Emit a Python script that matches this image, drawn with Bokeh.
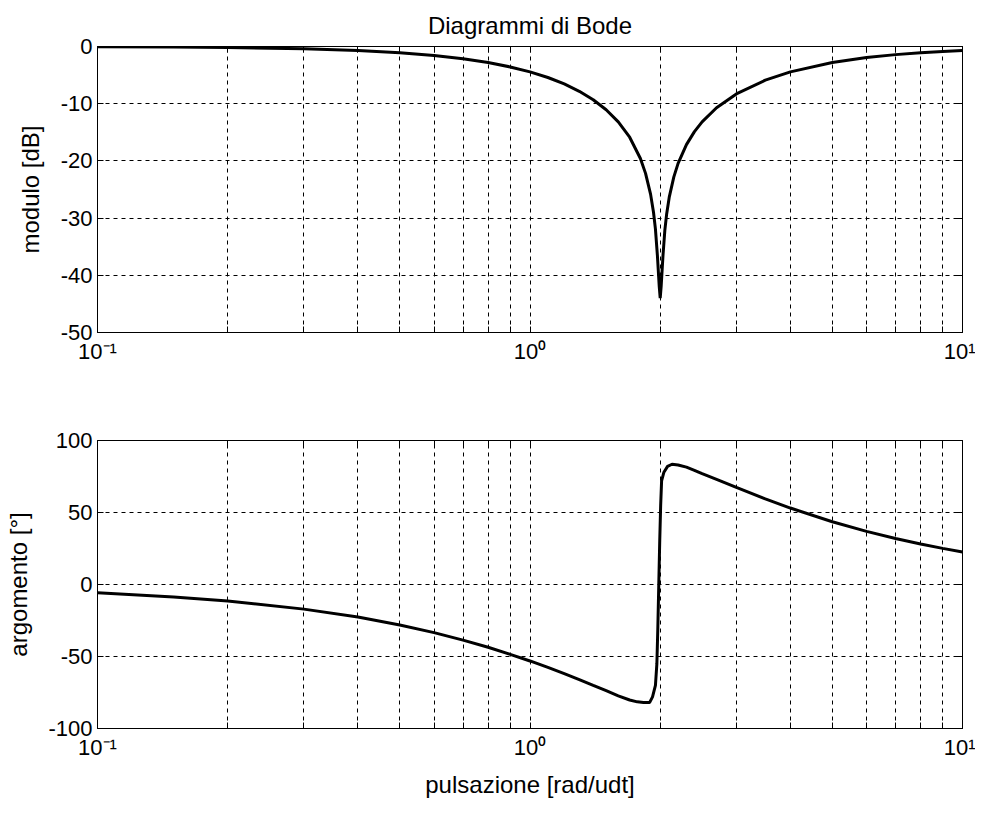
from bokeh.plotting import figure
from bokeh.models import FixedTicker, LogAxis, LinearAxis, Range1d, ColumnDataSource
from bokeh.layouts import column
from bokeh.embed import file_html
from bokeh.resources import INLINE

# ---------------- data ----------------
freq_mag = [0.1, 0.15, 0.2, 0.3, 0.4, 0.5, 0.6, 0.7, 0.8, 0.9, 1.0, 1.1, 1.2, 1.3, 1.4,
            1.5, 1.6, 1.7, 1.8, 1.85, 1.9, 1.93, 1.95, 1.97, 1.99, 2.0, 2.01, 2.03,
            2.05, 2.07, 2.1, 2.15, 2.2, 2.3, 2.4, 2.5, 2.7, 3.0, 3.5, 4, 5, 6, 7, 8, 9, 10]
mag_db = [-0.04, -0.10, -0.17, -0.39, -0.70, -1.09, -1.57, -2.14, -2.80, -3.57, -4.44,
          -5.42, -6.55, -7.83, -9.31, -11.06, -13.17, -15.86, -19.58, -22.18, -25.81,
          -28.97, -31.93, -36.41, -42.0, -44.0, -42.0, -36.54, -32.15, -29.27, -26.24,
          -22.83, -20.44, -17.15, -14.88, -13.17, -10.71, -8.30, -5.89, -4.44, -2.80,
          -1.94, -1.42, -1.09, -0.86, -0.70]

freq_phase = [0.1, 0.15, 0.2, 0.3, 0.4, 0.5, 0.6, 0.7, 0.8, 0.9, 1.0, 1.1, 1.2, 1.3, 1.4,
              1.5, 1.6, 1.7, 1.77, 1.83, 1.89, 1.92, 1.95, 1.965, 1.975, 1.985, 1.995,
              2.005, 2.015, 2.04, 2.08, 2.13, 2.2, 2.3, 2.4, 2.5, 2.7, 3.0, 3.5, 4, 5, 6,
              7, 8, 9, 10]
phase_deg = [-5.7, -8.6, -11.4, -17.1, -22.6, -28.1, -33.4, -38.6, -43.6, -48.5, -53.1,
             -57.6, -61.9, -66.0, -70.0, -73.7, -77.3, -80.2, -81.5, -82.0, -82.0, -78.0,
             -70.0, -55.0, -30.0, 0.0, 30.0, 55.0, 72.0, 78.0, 82.0, 83.5, 83.0, 81.5,
             79.3, 77.0, 73.0, 67.4, 59.5, 53.1, 43.6, 36.9, 31.9, 28.1, 25.1, 22.6]

x_ticks = [0.1, 0.2, 0.3, 0.4, 0.5, 0.6, 0.7, 0.8, 0.9, 1, 2, 3, 4, 5, 6, 7, 8, 9, 10]
x_tick_labels = {0.1: "10\u207b\u00b9", 1: "10\u2070", 10: "10\u00b9"}
mag_ticks = [-50, -40, -30, -20, -10, 0]
phase_ticks = [-100, -50, 0, 50, 100]

title_text = "Diagrammi di Bode"
mag_label = "modulo [dB]"
phase_label = "argomento [\u00b0]"
x_label = "pulsazione [rad/udt]"

FONT = "Liberation Sans"
TICK_FS = "22px"
TEXT_FS = "24px"


def xlabels(with_text):
    return {t: (x_tick_labels.get(t, "") if with_text else "") for t in x_ticks}


def style(p, yticks):
    p.outline_line_color = "black"
    p.outline_line_alpha = 1.0
    p.outline_line_width = 1
    p.background_fill_color = "white"
    p.border_fill_color = "white"
    for g in (p.xgrid, p.ygrid):
        g.grid_line_color = "black"
        g.grid_line_dash = "4 4"
        g.grid_line_width = 1
        g.grid_line_alpha = 1.0
    p.xgrid.ticker = FixedTicker(ticks=x_ticks)
    p.ygrid.ticker = FixedTicker(ticks=yticks)
    xa = p.below[0]
    xa.ticker = FixedTicker(ticks=x_ticks)
    xa.major_label_overrides = xlabels(True)
    ya = p.left[0]
    ya.ticker = FixedTicker(ticks=yticks)
    ya.major_label_overrides = {t: str(t) for t in yticks}
    for a in (xa, ya):
        a.minor_tick_line_color = None
        a.major_tick_in = 6
        a.major_tick_out = 0
        a.major_tick_line_color = "black"
        a.axis_line_color = "black"
        a.major_label_text_font = FONT
        a.major_label_text_font_size = TICK_FS
        a.major_label_text_color = "black"
        a.axis_label_text_font = FONT
        a.axis_label_text_font_size = TEXT_FS
        a.axis_label_text_font_style = "normal"
        a.axis_label_text_color = "black"
    xa.major_label_standoff = 6
    ya.major_label_standoff = 5
    top = LogAxis(ticker=FixedTicker(ticks=x_ticks), major_label_overrides=xlabels(False))
    right = LinearAxis(ticker=FixedTicker(ticks=yticks),
                       major_label_overrides={t: "" for t in yticks})
    for a in (top, right):
        a.minor_tick_line_color = None
        a.major_tick_in = 6
        a.major_tick_out = 0
        a.major_tick_line_color = "black"
        a.axis_line_color = "black"
        a.major_label_text_font_size = "1px"
        a.major_label_standoff = 0
    p.add_layout(top, "above")
    p.add_layout(right, "right")
    return xa, ya


p1 = figure(width=975, height=400, x_axis_type="log",
            x_range=Range1d(0.1, 10), y_range=Range1d(-50, 0),
            output_backend="svg", toolbar_location=None,
            min_border_left=97, min_border_right=13,
            min_border_top=46, min_border_bottom=68)
p1.title.text = title_text
p1.title.align = "center"
p1.title.text_font = FONT
p1.title.text_font_size = TEXT_FS
p1.title.text_font_style = "normal"
p1.title.text_color = "black"
p1.title.standoff = 16
xa1, ya1 = style(p1, mag_ticks)
ya1.axis_label = mag_label
ya1.axis_label_standoff = 14
p1.line(x="f", y="v", source=ColumnDataSource(dict(f=freq_mag, v=mag_db)),
        line_color="black", line_width=3)

p2 = figure(width=975, height=406, x_axis_type="log",
            x_range=Range1d(0.1, 10), y_range=Range1d(-100, 100),
            output_backend="svg", toolbar_location=None,
            min_border_left=97, min_border_right=13,
            min_border_top=40, min_border_bottom=78)
xa2, ya2 = style(p2, phase_ticks)
ya2.axis_label = phase_label
ya2.axis_label_standoff = 13
xa2.axis_label = x_label
xa2.axis_label_standoff = 8
p2.line(x="f", y="v", source=ColumnDataSource(dict(f=freq_phase, v=phase_deg)),
        line_color="black", line_width=3)

layout = column(p1, p2, spacing=0)
open("out.html", "w").write(file_html(layout, INLINE))
